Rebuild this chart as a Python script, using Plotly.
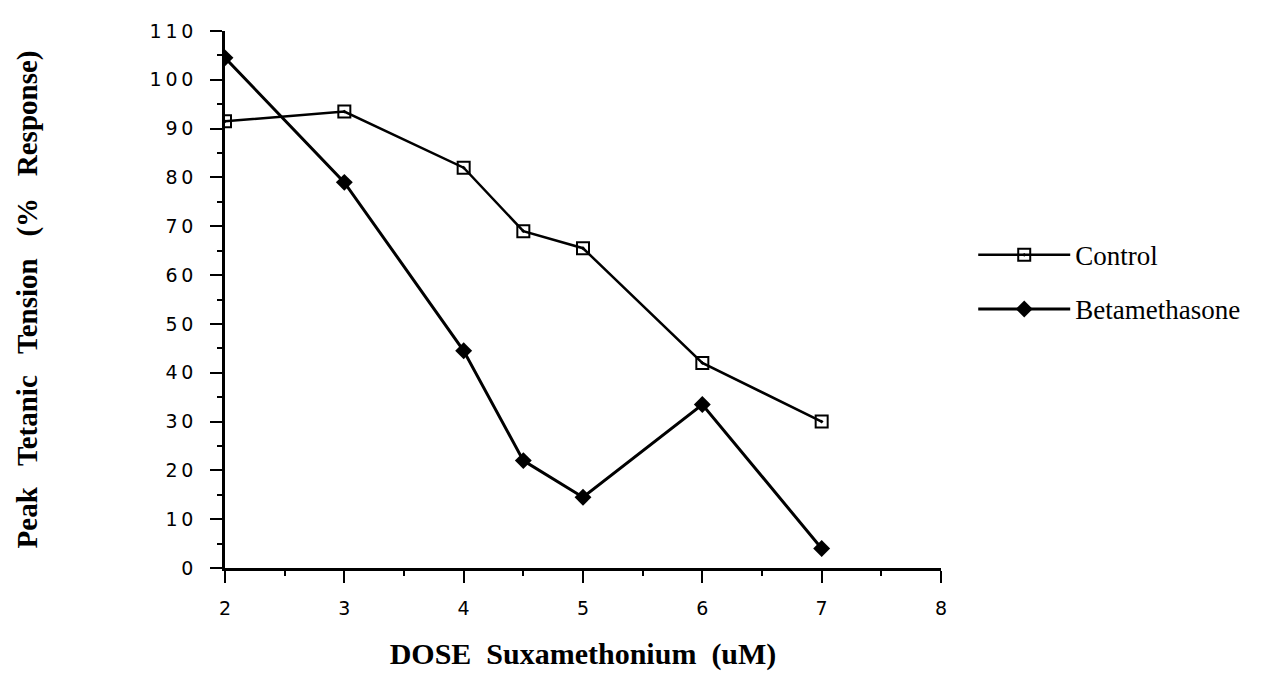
import plotly.graph_objects as go

dose_control = [2, 3, 4, 4.5, 5, 6, 7]
control = [91.5, 93.5, 82, 69, 65.5, 42, 30]
dose_beta = [2, 3, 4, 4.5, 5, 6, 7]
beta = [104.5, 79, 44.5, 22, 14.5, 33.5, 4]

x_ticks = [2, 3, 4, 5, 6, 7, 8]
y_ticks = list(range(0, 111, 10))
y_ticktext = ["\u2009".join(str(v)) for v in y_ticks]

fig = go.Figure()
fig.add_trace(go.Scatter(
    x=dose_control, y=control, name="Control", mode="lines+markers",
    legendgroup="control",
    line=dict(color="black", width=2.5),
    marker=dict(symbol="square-open-dot", size=12, color="black", line=dict(width=2)),
))
fig.add_trace(go.Scatter(
    x=dose_beta, y=beta, name="Betamethasone", mode="lines+markers",
    legendgroup="beta",
    line=dict(color="black", width=3),
    marker=dict(symbol="diamond", size=13, color="black"),
))

fig.update_layout(
    width=1279, height=679,
    margin=dict(l=217, r=346, t=12, b=119),
    paper_bgcolor="white", plot_bgcolor="white",
    showlegend=True,
    legend=dict(x=1.045, y=0.532, xanchor="left", yanchor="middle",
                font=dict(family="Liberation Serif", size=27, color="black"),
                tracegroupgap=16, itemwidth=92, bgcolor="rgba(0,0,0,0)"),
    font=dict(family="DejaVu Sans", color="black"),
)
fig.update_xaxes(
    range=[2, 8], tickvals=x_ticks, showgrid=False, zeroline=False,
    showline=True, linecolor="black", linewidth=2.5,
    ticks="outside", ticklen=12, tickwidth=2, tickcolor="black",
    minor=dict(dtick=0.5, ticks="outside", ticklen=5, tickwidth=2, tickcolor="black"),
    tickfont=dict(family="DejaVu Sans", size=19, color="black"),
    ticklabelstandoff=9,
    title=dict(text="DOSE  Suxamethonium  (uM)", standoff=26,
               font=dict(family="Liberation Serif", size=30, color="black", weight="bold")),
)
fig.update_yaxes(
    range=[0, 110], tickvals=y_ticks, ticktext=y_ticktext, showgrid=False, zeroline=False,
    showline=True, linecolor="black", linewidth=2.5,
    ticks="outside", ticklen=12, tickwidth=2, tickcolor="black",
    minor=dict(dtick=5, ticks="outside", ticklen=5, tickwidth=2, tickcolor="black"),
    tickfont=dict(family="DejaVu Sans", size=19, color="black"),
    ticklabelstandoff=13,
    title=dict(text="Peak   Tetanic   Tension   (%   Response)", standoff=104,
               font=dict(family="Liberation Serif", size=29, color="black", weight="bold")),
)

fig.write_html("out.html")
